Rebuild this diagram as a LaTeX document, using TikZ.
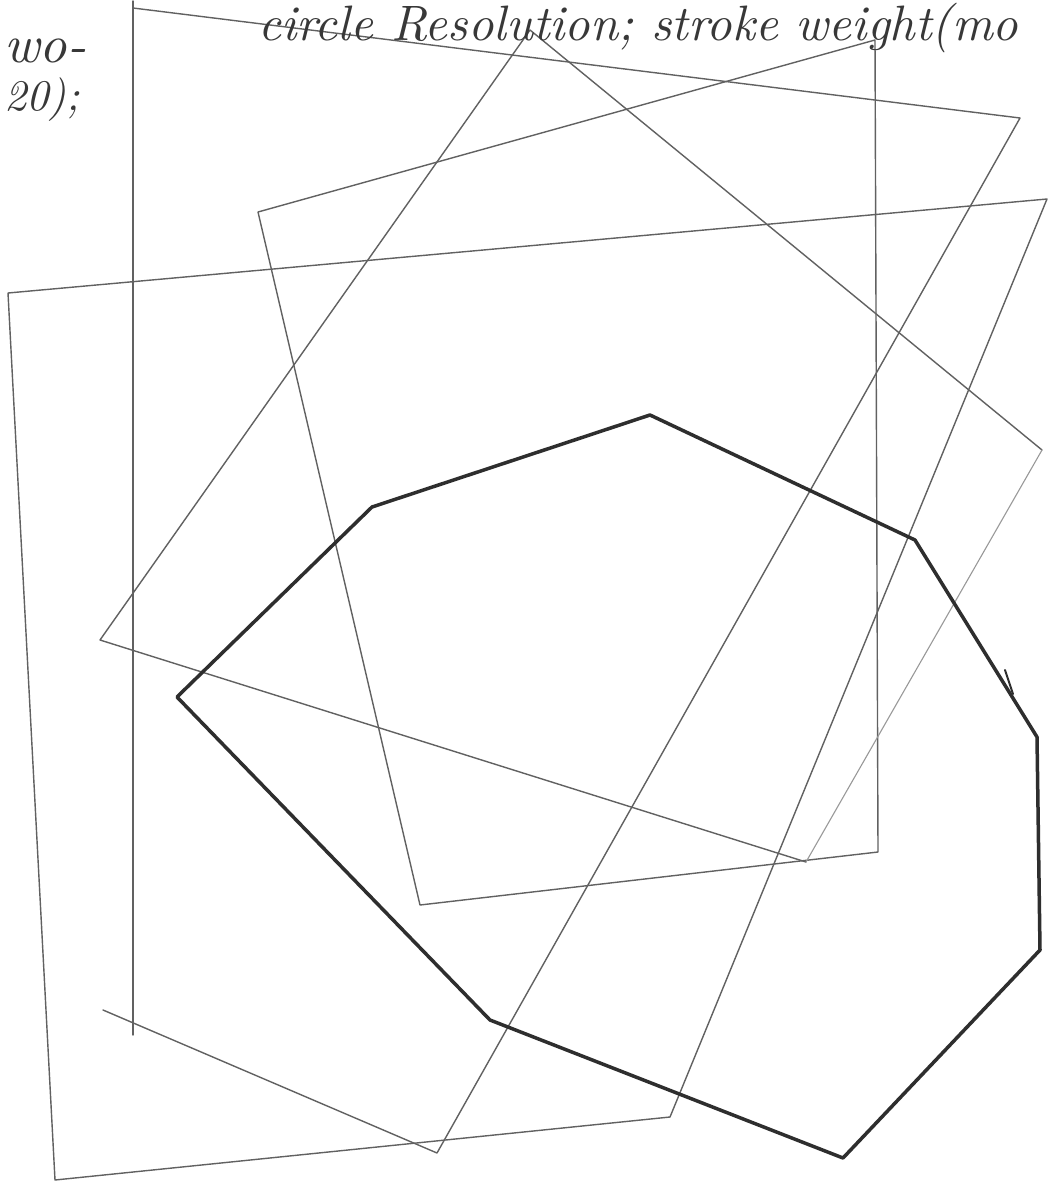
\documentclass[tikz,border=0pt]{standalone}
\usepackage{graphicx}
\begin{document}
\begin{tikzpicture}[x=1pt,y=-1pt,
  thin line/.style={draw=black!62, line width=1.4pt, line join=round, line cap=round},
  faint line/.style={draw=black!40, line width=1.1pt, line cap=round},
  heavy line/.style={draw=black!82, line width=3.5pt, line join=round, line cap=round},
  hand/.style={text=black!78, inner sep=0pt, font=\itshape}]
\useasboundingbox (0,0) rectangle (1051,1186);
\fill[white] (0,0) rectangle (1051,1186);

% quadrilateral E
\coordinate (e1) at (133,8);
\coordinate (e2) at (1020,118);
\coordinate (e3) at (437,1153);
\coordinate (e4) at (103,1010);
\coordinate (etop) at (133,1);
\coordinate (ebot) at (133,1035);
\draw[thin line] (etop) -- (ebot);
\draw[thin line] (e1) -- (e2) -- (e3) -- (e4);

% quadrilateral D
\coordinate (d1) at (8,293);
\coordinate (d2) at (1047,199);
\coordinate (d3) at (670,1117);
\coordinate (d4) at (55,1180);
\draw[thin line] (d1) -- (d2) -- (d3) -- (d4) -- cycle;

% quadrilateral C
\coordinate (c1) at (258,212);
\coordinate (c2) at (875,40);
\coordinate (c3) at (878,852);
\coordinate (c4) at (420,905);
\draw[thin line] (c1) -- (c2) -- (c3) -- (c4) -- cycle;

% quadrilateral B
\coordinate (b1) at (530,30);
\coordinate (b2) at (1042,450);
\coordinate (b3) at (806,862);
\coordinate (b4) at (100,640);
\draw[thin line] (b2) -- (b1) -- (b4) -- (b3);
\draw[faint line] (b3) -- (b2);

% heavy polygon
\coordinate (p1) at (650,415);
\coordinate (p2) at (915,540);
\coordinate (p3) at (1037,737);
\coordinate (p4) at (1040,950);
\coordinate (p5) at (843,1158);
\coordinate (p6) at (490,1020);
\coordinate (p7) at (177,697);
\coordinate (p8) at (372,507);
\draw[heavy line] (p1) -- (p2) -- (p3) -- (p4) -- (p5) -- (p6) -- (p7) -- (p8) -- cycle;
\coordinate (t1) at (1005,670);
\coordinate (t2) at (1013,694);
\draw[heavy line, line width=2pt] (t1) -- (t2);

% handwritten text
\node[hand, anchor=base west] (toptext) at (258,40)
  {\resizebox{760pt}{!}{circle Resolution; stroke weight(mo}};
\node[hand, anchor=base west] (wo) at (4,62)
  {\resizebox{82pt}{!}{wo-}};
\node[hand, anchor=base west] (twenty) at (4,110)
  {\resizebox{76pt}{!}{20);}};
\end{tikzpicture}
\end{document}
